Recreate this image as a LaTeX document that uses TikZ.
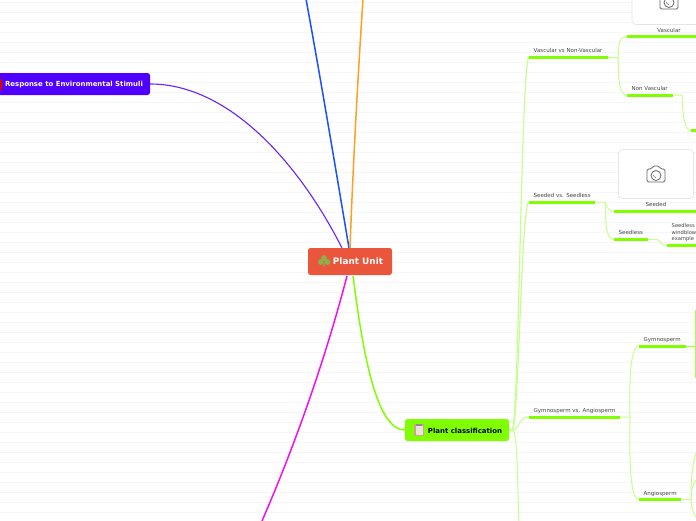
\documentclass[tikz,border=0pt]{standalone}
\usepackage{fontspec}
\setmainfont{DejaVu Sans}
\definecolor{lime}{HTML}{80FF00}
\definecolor{limelight}{HTML}{C6FF8E}
\definecolor{rule}{HTML}{F6F6F6}
\definecolor{central}{HTML}{EA563B}
\definecolor{violetmain}{HTML}{5000FF}
\definecolor{violetlimb}{HTML}{6A20FF}
\definecolor{magentamain}{HTML}{F010F0}
\definecolor{bluemain}{HTML}{1A50FF}
\definecolor{orangemain}{HTML}{FFA020}
\definecolor{subtext}{HTML}{444444}
\definecolor{clover}{HTML}{8DB04A}
\tikzset{
  x=1pt,y=-1pt,
  topic/.style={rounded corners=2.5pt,minimum height=22pt,inner sep=0pt,font=\bfseries\fontsize{6.95}{9}\selectfont},
  sublabel/.style={font=\fontsize{5.5}{6.5}\selectfont,text=subtext,inner sep=0pt},
  bar/.style={draw=lime,line width=3pt},
  twig/.style={draw=limelight,line width=1pt},
  limb/.style={line width=1.5pt},
  card/.style={draw=black!10,fill=white,rounded corners=4pt,line width=.6pt},
  cam/.style={draw=black!60,line width=.8pt,line join=round}
}
\newcommand{\cameraicon}[2]{%
  \draw[cam,rounded corners=1.5pt] (#1-9,#2-5) -- (#1-4.5,#2-5) -- (#1-3,#2-8) -- (#1+3,#2-8) -- (#1+4.5,#2-5) -- (#1+9,#2-5) -- (#1+9,#2+8) -- (#1-9,#2+8) -- cycle;
  \draw[cam] (#1,#2+1.5) circle (5pt);
  \draw[cam,line width=.5pt] (#1-2.6,#2+1) arc (180:270:2.6pt);
}
\begin{document}
\begin{tikzpicture}
\useasboundingbox (0,0) rectangle (696,520);
\fill[white] (0,0) rectangle (696,520);
\begin{scope}
\clip (0,0) rectangle (696,520);
\foreach \yy in {2.5,12.5,...,520} \draw[rule,line width=.7pt] (0,\yy) -- (696,\yy);

% anchors
\coordinate (blueEnd) at (306,-1);
\coordinate (orangeEnd) at (363,-1);
\coordinate (magentaEnd) at (262,521);

% main nodes
\node[topic,fill=central,text=white,minimum width=84pt,minimum height=27pt,font=\bfseries\fontsize{8.9}{10}\selectfont] (center) at (350,261.5) {\hspace*{16pt}\raisebox{-3.3pt}[0pt][0pt]{Plant Unit}};
\node[topic,fill=violetmain,text=white,minimum width=152pt] (resp) at (74,84) {\raisebox{-2.8pt}[0pt][0pt]{Response to Environmental Stimuli}};
\node[topic,fill=lime,text=black,minimum width=104pt] (plant) at (457,430) {\hspace*{16pt}\raisebox{-3pt}[0pt][0pt]{Plant classification}};

% main limbs
\draw[limb,violetlimb,line width=1.1pt] (resp.east) .. controls (230,84) and (300,165) .. (342,248);
\draw[limb,bluemain] (349,248) .. controls (335,165) and (320,75) .. (blueEnd);
\draw[limb,orangemain] (350,248) .. controls (353,165) and (358,75) .. (orangeEnd);
\draw[limb,magentamain] (347,276) .. controls (325,360) and (295,445) .. (magentaEnd);
\draw[limb,lime] (353,276) .. controls (362,345) and (375,430) .. (plant.west);

% second level anchors
\coordinate (vvTail) at (529,57.5);
\coordinate (vvEnd) at (608,57.5);
\coordinate (vasL) at (627,36.5);
\coordinate (vasR) at (697,36.5);
\coordinate (nvL) at (627,95);
\coordinate (nvR) at (673,95);
\coordinate (nvTip) at (682,95);
\coordinate (leafL) at (691,130.5);
\coordinate (leafR) at (697,130.5);
\coordinate (ssL) at (529,202);
\coordinate (ssR) at (595,202);
\coordinate (ssTip) at (605,202);
\coordinate (sdL) at (614,211.5);
\coordinate (sdR) at (697,211.5);
\coordinate (slL) at (614,239.5);
\coordinate (slR) at (648,239.5);
\coordinate (slTip) at (657,239.5);
\coordinate (txL) at (667,245.5);
\coordinate (txR) at (697,245.5);
\coordinate (gaL) at (529,417);
\coordinate (gaR) at (620,417);
\coordinate (gaTip) at (630,417);
\coordinate (gyL) at (639,346);
\coordinate (gyR) at (686,346);
\coordinate (gyTip) at (695.6,346);
\coordinate (anL) at (639,499.5);
\coordinate (anR) at (681,499.5);
\coordinate (anTip) at (691,499.5);
\coordinate (bottom) at (519,521);
\coordinate (hub) at (512,430);

% twigs
\draw[twig,line width=1.2pt] (plant.east) -- (hub);
\draw[twig,line width=1.2pt] (hub) .. controls (519,430) and (521,57.5) .. (vvTail);
\draw[twig,line width=1.2pt] (hub) .. controls (519,430) and (521,202) .. (ssL);
\draw[twig] (hub) .. controls (520,430) and (518,417) .. (gaL);
\draw[twig] (hub) .. controls (518,430) and (517,480) .. (bottom);

\draw[twig] (vvEnd) -- (618,57.5) .. controls (619,50) and (617,36.5) .. (vasL);
\draw[twig] (vvEnd) -- (618,57.5) .. controls (619,70) and (617,95) .. (nvL);
\draw[twig] (nvR) -- (nvTip) .. controls (683,110) and (683,130.5) .. (leafL);
\draw[twig] (ssR) -- (ssTip) .. controls (606,205) and (608,211.5) .. (sdL);
\draw[twig] (ssTip) .. controls (606,220) and (605,239.5) .. (slL);
\draw[twig] (slR) -- (slTip) .. controls (661,240) and (660,245.5) .. (txL);
\draw[twig] (gaR) -- (gaTip) .. controls (630,400) and (628,346) .. (gyL);
\draw[twig] (gaTip) .. controls (630,440) and (628,499.5) .. (anL);
\draw[twig,draw=lime!80!white] (gyR) -- (gyTip);
\draw[twig,draw=lime!70!white] (gyTip) -- (695.6,310);
\draw[twig,draw=lime!70!white] (gyTip) -- (695.6,378);
\draw[twig] (anR) -- (anTip);
\draw[twig] (anTip) .. controls (691,480) and (692,465) .. (697,450);
\draw[twig] (anTip) .. controls (691,490) and (693,484) .. (697,478);
\draw[twig] (anTip) .. controls (691,505) and (692,512) .. (697,518);

% bars
\foreach \a/\b in {vvTail/vvEnd,vasL/vasR,nvL/nvR,leafL/leafR,ssL/ssR,sdL/sdR,slL/slR,txL/txR,gaL/gaR,gyL/gyR,anL/anR}
  \draw[bar] (\a) -- (\b);

% labels
\node[sublabel,anchor=base west] (lvv) at (533.5,52) {Vascular vs Non-Vascular};
\node[sublabel,anchor=base] (lvas) at (669,32) {Vascular};
\node[sublabel,anchor=base west] (lnv) at (631.5,90) {Non Vascular};
\node[sublabel,anchor=base west] (lss) at (533.5,197) {Seeded vs. Seedless};
\node[sublabel,anchor=base] (lsd) at (656,206) {Seeded};
\node[sublabel,anchor=base west] (lsl) at (618.5,234) {Seedless};
\node[sublabel,anchor=base west,font=\fontsize{5.2}{6}\selectfont] (l1) at (671.5,227.5) {Seedless};
\node[sublabel,anchor=base west,font=\fontsize{5.2}{6}\selectfont] (l2) at (671.5,234.5) {windblow};
\node[sublabel,anchor=base west,font=\fontsize{5.2}{6}\selectfont] (l3) at (671.5,240.5) {example};
\node[sublabel,anchor=base west] (lga) at (533.5,412) {Gymnosperm vs. Angiosperm};
\node[sublabel,anchor=base west] (lgy) at (643.5,341) {Gymnosperm};
\node[sublabel,anchor=base west] (lan) at (643.5,495) {Angiosperm};

% cards
\draw[card] (632,-10) rectangle (700,24.5);
\cameraicon{669}{1}
\draw[card] (618.5,149.5) rectangle (693.5,198.5);
\cameraicon{656}{174}

% red mark on the response node
\fill[red!85!black] (0,78.5) rectangle (2,90);

% clover on Plant Unit
\fill[clover] (324,258) circle (2.9pt) (320.8,262) circle (2.9pt) (327.4,262) circle (2.9pt);
\fill[clover] (323.6,262) -- (324.6,262) -- (324.8,266.5) -- (323.4,266.5) -- cycle;

% clipboard on Plant classification
\fill[brown!70!white] (414,424) rectangle (424,436);
\fill[black!10] (415.5,425.5) rectangle (422.5,434.5);
\fill[black!45] (416,423.5) rectangle (422,425.5);
\end{scope}
\end{tikzpicture}
\end{document}
